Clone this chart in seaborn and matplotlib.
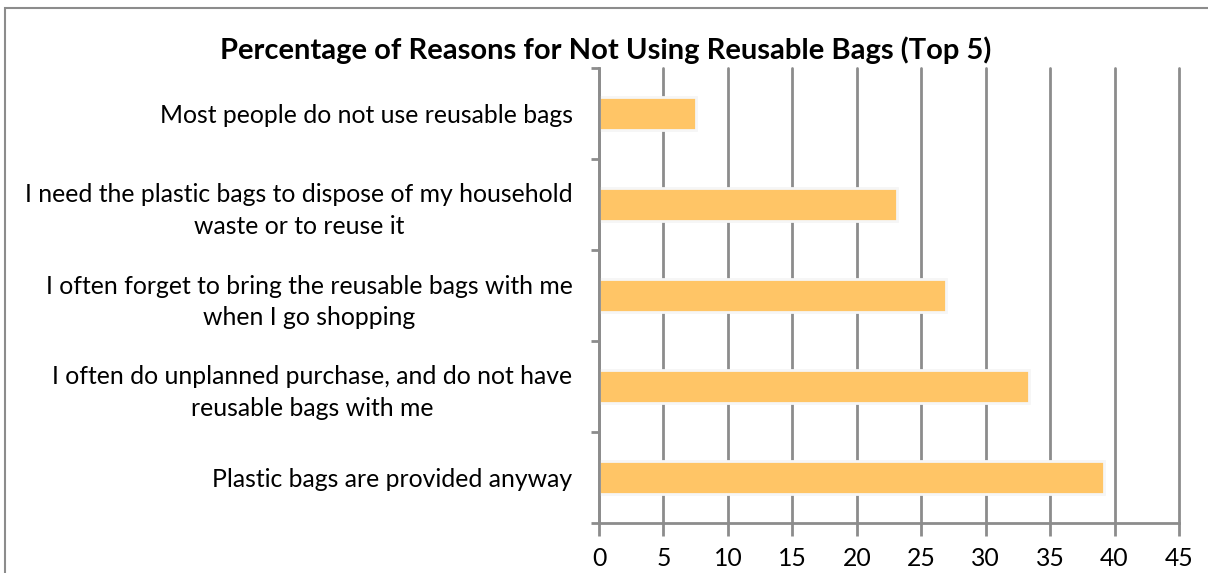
import matplotlib
matplotlib.use("Agg")
import matplotlib.pyplot as plt
from matplotlib.patches import Rectangle
import seaborn as sns
import pandas as pd

# Survey results: share of respondents citing each reason (%)
reasons = [
    "Most people do not use reusable bags",
    "I need the plastic bags to dispose of my household\nwaste or to reuse it",
    "I often forget to bring the reusable bags with me\nwhen I go shopping",
    "I often do unplanned purchase, and do not have\nreusable bags with me",
    "Plastic bags are provided anyway",
]
percentages = [7.5, 23.1, 26.9, 33.4, 39.2]
x_ticks = [0, 5, 10, 15, 20, 25, 30, 35, 40, 45]

title = "Percentage of Reasons for Not Using Reusable Bags (Top 5)"

sns.set_theme(style="white")
plt.rcParams["font.family"] = ["Lato", "DejaVu Sans"]

W, H = 1208, 573
fig = plt.figure(figsize=(W / 100, H / 100), dpi=100)
fig.patch.set_facecolor("white")

# Chart frame (left and top edges visible)
fig.add_artist(Rectangle((5 / W, -0.1), 1.2, 1 - 8 / H + 0.1,
                         transform=fig.transFigure, fill=False,
                         edgecolor="#8c8c8c", linewidth=1.5))

ax = fig.add_axes([599 / W, 1 - 523 / H, 580 / W, 455 / H])

df = pd.DataFrame({"reason": reasons, "pct": percentages})
sns.barplot(data=df, x="pct", y="reason", orient="h", color="#FFC566",
            saturation=1, width=0.37, edgecolor="#f6f6f6", linewidth=2,
            ax=ax)

grid_col = "#8c8c8c"
label_size = 17.8
ax.set_xlim(0, 45)
ax.set_ylim(4.5, -0.5)
ax.set_xticks(x_ticks)
ax.set_xticklabels([str(t) for t in x_ticks])
ax.xaxis.grid(True, color=grid_col, linewidth=2)
for gl in ax.get_xgridlines():
    gl.set_clip_on(False)
ax.yaxis.grid(False)
ax.set_axisbelow(True)

for side in ("top", "right"):
    ax.spines[side].set_visible(False)
for side in ("left", "bottom"):
    ax.spines[side].set_color(grid_col)
    ax.spines[side].set_linewidth(2)

ax.tick_params(axis="x", direction="out", length=9, width=2, color=grid_col,
               pad=8, labelsize=label_size, labelcolor="black", bottom=True)
ax.set_yticks(range(len(reasons)))
ax.set_yticklabels(reasons, multialignment="center", linespacing=1.45)
ax.tick_params(axis="y", which="major", length=0, pad=19,
               labelsize=label_size, labelcolor="black")
ax.set_yticks([i - 0.5 for i in range(len(reasons) + 1)], minor=True)
ax.tick_params(axis="y", which="minor", direction="out", length=6, width=2,
               color=grid_col, left=True)

ax.set_xlabel("")
ax.set_ylabel("")

fig.text(606 / W, 1 - 50 / H, title, ha="center", va="center",
         fontsize=21, fontweight="bold", color="black")

fig.savefig("out.png", dpi=100, facecolor="white")
